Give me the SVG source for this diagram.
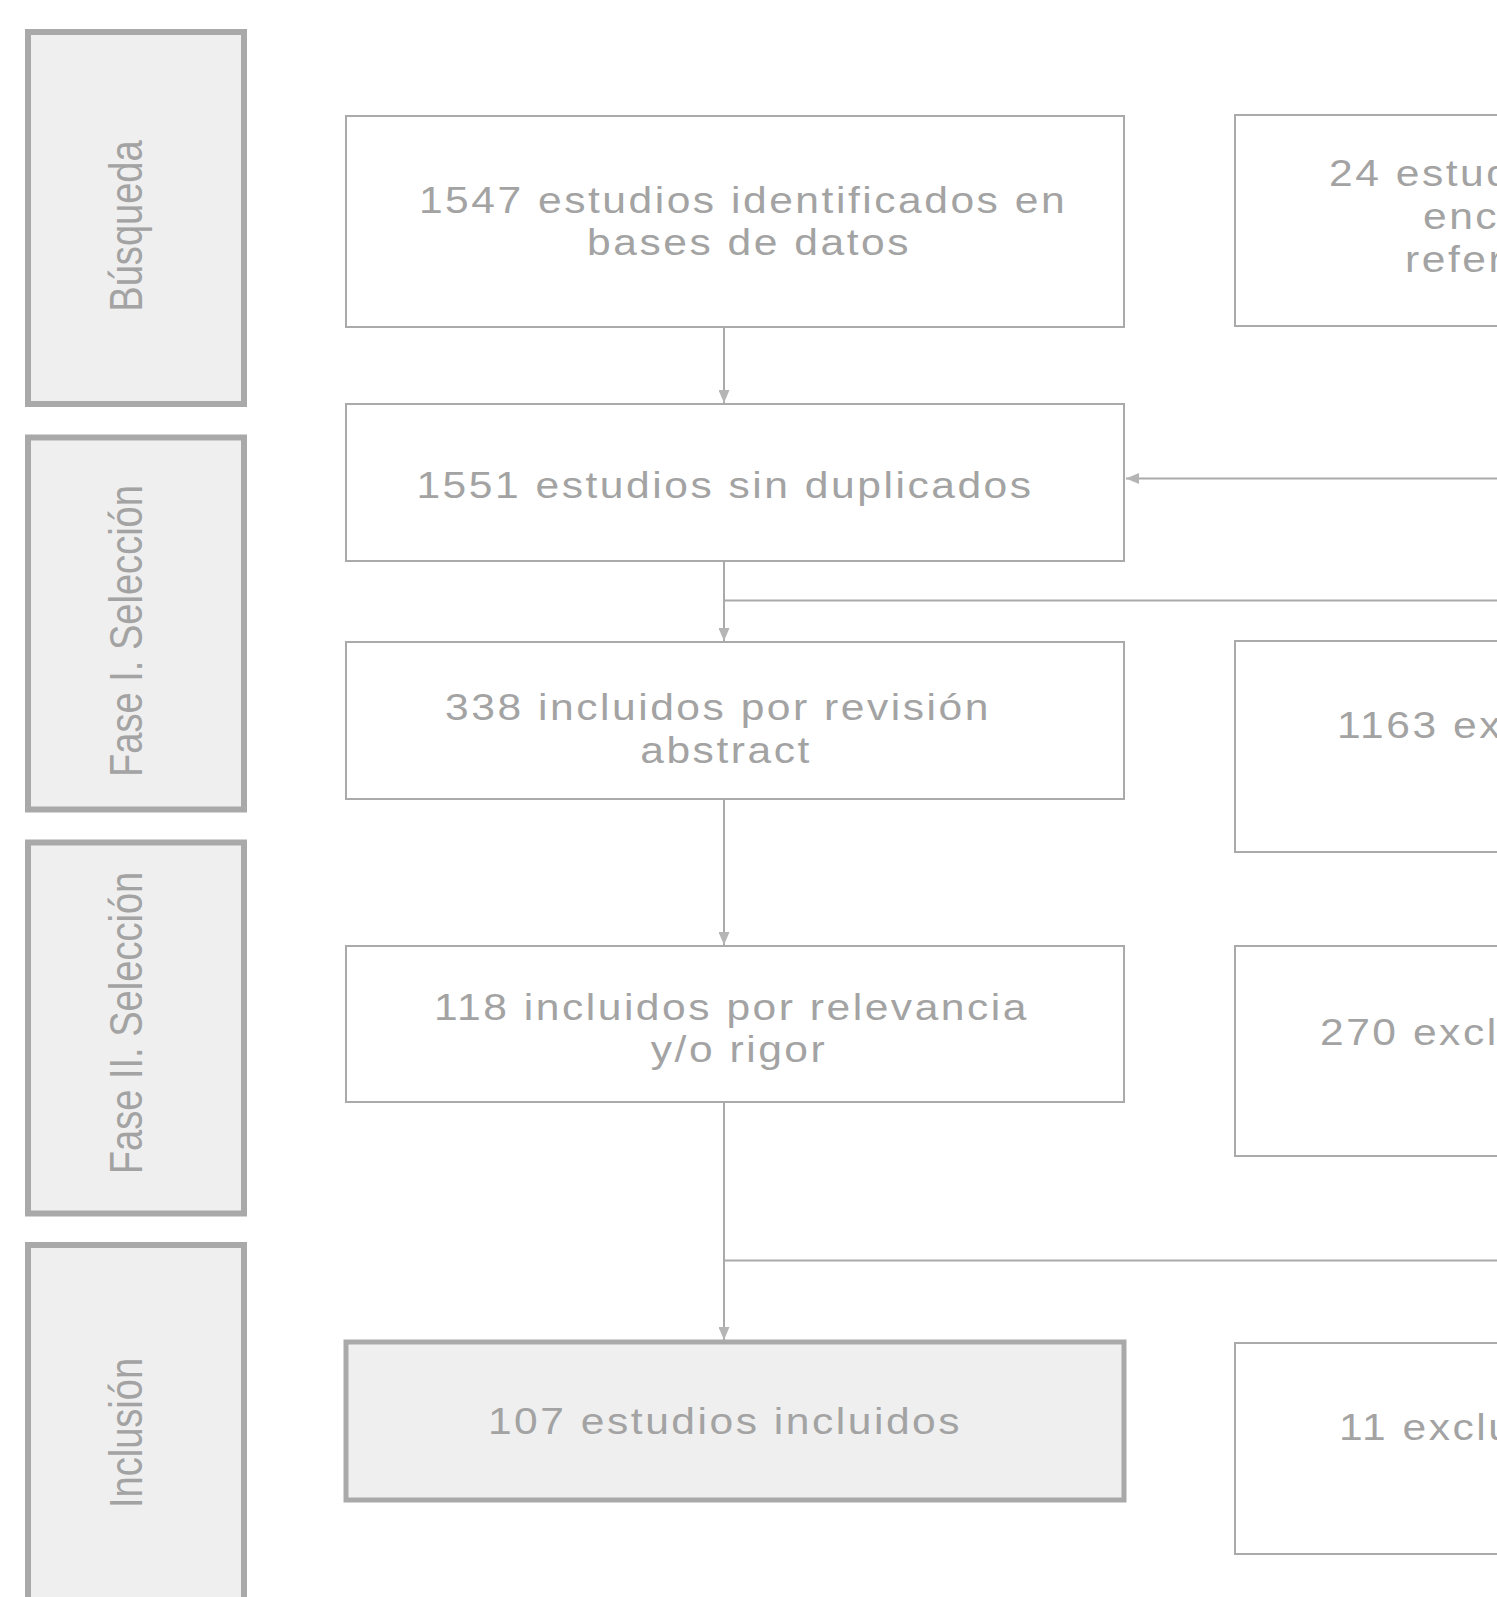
<svg xmlns="http://www.w3.org/2000/svg" width="1497" height="1597" viewBox="0 0 1497 1597">
<style>
.stage{fill:#efefef;stroke:#a9a9a9;stroke-width:6}
.box{fill:#ffffff;stroke:#aaaaaa;stroke-width:2}
.final{fill:#efefef;stroke:#a9a9a9;stroke-width:5}
.lbl{font-family:"Liberation Sans",Arial,sans-serif;font-size:47px;fill:#a3a3a3;text-anchor:middle}
.t{font-family:"Liberation Sans",Arial,sans-serif;font-size:37px;fill:#a3a3a3;text-anchor:middle;letter-spacing:2.2px}
.ts{font-family:"Liberation Sans",Arial,sans-serif;font-size:37px;fill:#a3a3a3;text-anchor:start;letter-spacing:2.2px}
.c{fill:none;stroke:#aaaaaa;stroke-width:2}
</style>
<defs>
<marker id="arr" markerWidth="13" markerHeight="11" refX="13" refY="5.5" orient="auto" markerUnits="userSpaceOnUse">
<path d="M0,0 L13,5.5 L0,11 Z" fill="#b5b5b5"/>
</marker>
</defs>
<rect width="1497" height="1597" fill="#ffffff"/>

<g id="stage-busqueda">
<rect class="stage" x="28" y="32" width="216" height="372"/>
<text class="lbl" transform="translate(142,226) rotate(-90) scale(0.81,1)">Búsqueda</text>
</g>
<g id="stage-fase1">
<rect class="stage" x="28" y="437.5" width="216" height="372"/>
<text class="lbl" transform="translate(142,631) rotate(-90) scale(0.81,1)">Fase I. Selección</text>
</g>
<g id="stage-fase2">
<rect class="stage" x="28" y="842.5" width="216" height="371"/>
<text class="lbl" transform="translate(142,1023) rotate(-90) scale(0.81,1)">Fase II. Selección</text>
</g>
<g id="stage-inclusion">
<rect class="stage" x="28" y="1245" width="216" height="372"/>
<text class="lbl" transform="translate(142,1433) rotate(-90) scale(0.81,1)">Inclusión</text>
</g>

<g id="connectors">
<line class="c" x1="724" y1="327" x2="724" y2="403" marker-end="url(#arr)"/>
<line class="c" x1="1497" y1="478.5" x2="1126" y2="478.5" marker-end="url(#arr)"/>
<line class="c" x1="724" y1="561" x2="724" y2="641" marker-end="url(#arr)"/>
<line class="c" x1="725" y1="600.5" x2="1497" y2="600.5"/>
<line class="c" x1="724" y1="799" x2="724" y2="945" marker-end="url(#arr)"/>
<line class="c" x1="724" y1="1102" x2="724" y2="1340" marker-end="url(#arr)"/>
<line class="c" x1="725" y1="1260.5" x2="1497" y2="1260.5"/>
</g>

<g id="n-identificados">
<rect class="box" x="346" y="116" width="778" height="211"/>
<text class="t" transform="translate(743,213) scale(1.15,1)">1547 estudios identificados en</text>
<text class="t" transform="translate(749,255) scale(1.15,1)">bases de datos</text>
</g>
<g id="n-sin-duplicados">
<rect class="box" x="346" y="404" width="778" height="157"/>
<text class="t" transform="translate(725,498) scale(1.15,1)">1551 estudios sin duplicados</text>
</g>
<g id="n-abstract">
<rect class="box" x="346" y="642" width="778" height="157"/>
<text class="t" transform="translate(718,720) scale(1.15,1)">338 incluidos por revisión</text>
<text class="t" transform="translate(726,763) scale(1.15,1)">abstract</text>
</g>
<g id="n-relevancia">
<rect class="box" x="346" y="946" width="778" height="156"/>
<text class="t" transform="translate(731.5,1020) scale(1.15,1)">118 incluidos por relevancia</text>
<text class="t" transform="translate(739,1062) scale(1.15,1)">y/o rigor</text>
</g>
<g id="n-incluidos">
<rect class="final" x="346" y="1342" width="778" height="158"/>
<text class="t" transform="translate(725,1434) scale(1.15,1)">107 estudios incluidos</text>
</g>

<g id="n-referencias">
<rect class="box" x="1235" y="115" width="800" height="211"/>
<text class="ts" transform="translate(1329,186) scale(1.15,1)">24 estudios</text>
<text class="ts" transform="translate(1423,229) scale(1.15,1)">encontrados</text>
<text class="ts" transform="translate(1405,272) scale(1.15,1)">referencias</text>
</g>
<g id="n-excl-1163">
<rect class="box" x="1235" y="641" width="800" height="211"/>
<text class="ts" transform="translate(1337,738) scale(1.15,1)">1163 excluidos</text>
</g>
<g id="n-excl-270">
<rect class="box" x="1235" y="946" width="800" height="210"/>
<text class="ts" transform="translate(1320,1045) scale(1.15,1)">270 excluidos</text>
</g>
<g id="n-excl-11">
<rect class="box" x="1235" y="1343" width="800" height="211"/>
<text class="ts" transform="translate(1339,1440) scale(1.15,1)">11 excluidos</text>
</g>
</svg>
